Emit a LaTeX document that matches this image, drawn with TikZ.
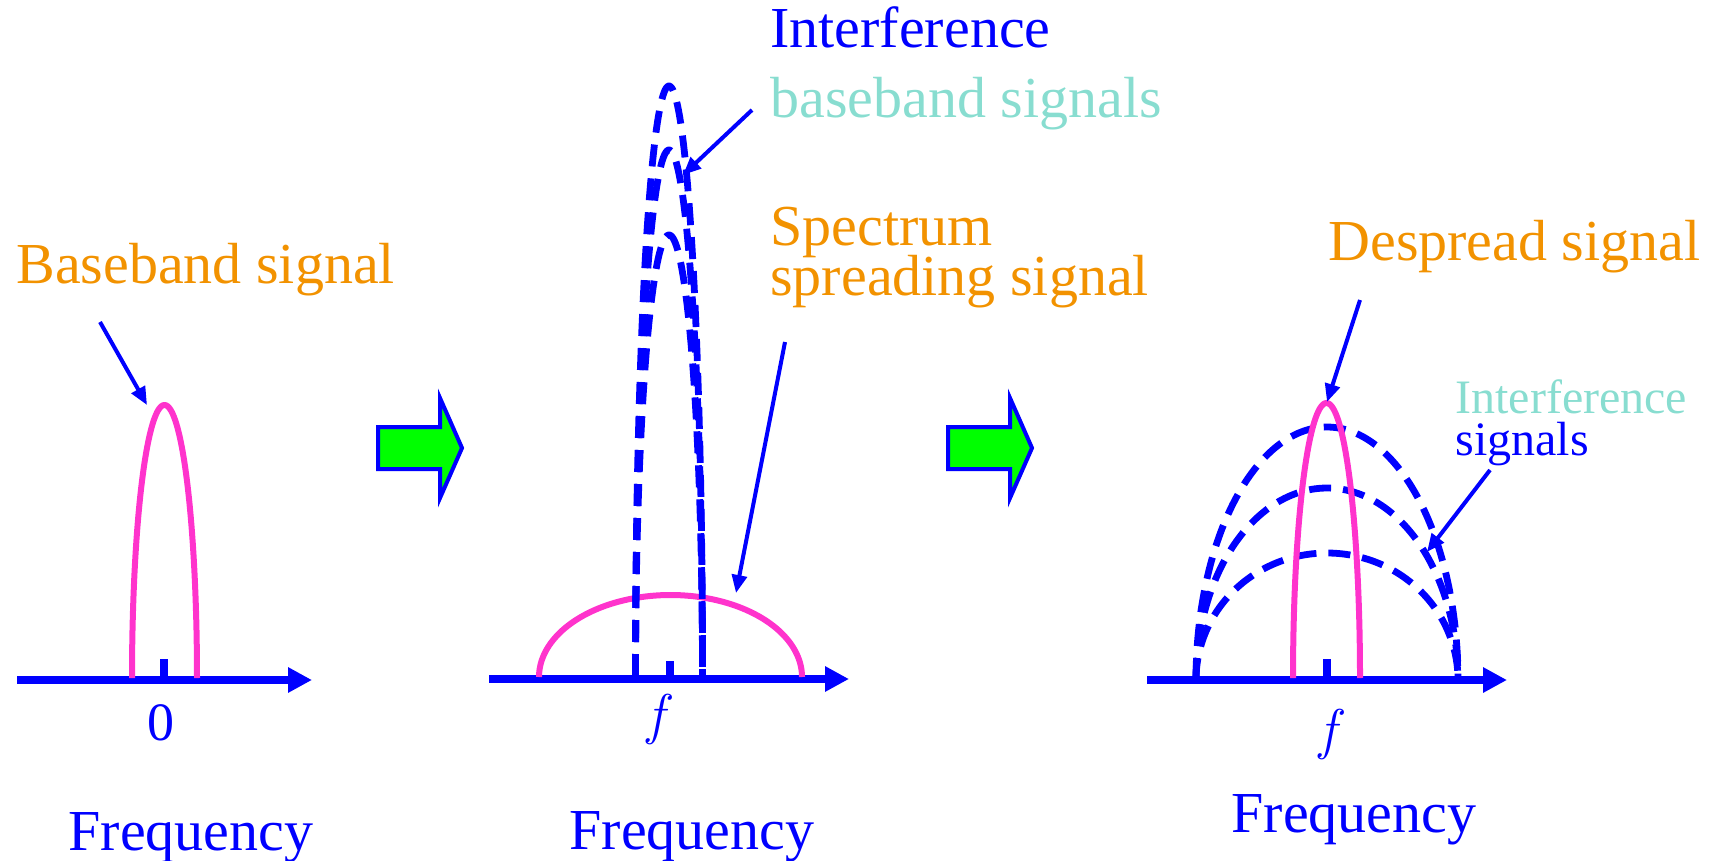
\documentclass[tikz,border=0pt]{standalone}
\usepackage{fontspec}
\setmainfont{Liberation Serif}
\newfontfamily\lmrm{Latin Modern Roman}
\usetikzlibrary{arrows.meta}
\definecolor{myblue}{RGB}{0,0,255}
\definecolor{myorange}{RGB}{242,146,0}
\definecolor{myteal}{RGB}{136,221,208}
\definecolor{mypink}{RGB}{255,51,204}
\definecolor{mygreen}{RGB}{0,255,0}
\begin{document}
\begin{tikzpicture}[x=0.5pt,y=-0.5pt,
  axisline/.style={myblue, line width=4pt, -{Triangle[length=12pt,width=12pt]}},
  tickmark/.style={myblue, line width=4pt},
  sigcurve/.style={mypink, line width=3pt},
  intcurve/.style={myblue, line width=3.4pt, dash pattern=on 11pt off 6pt},
  pointer/.style={myblue, line width=2pt, -{Triangle[length=9pt,width=7.5pt]}},
  lbl/.style={inner sep=0pt, font=\fontsize{29}{34}\selectfont},
  smalllbl/.style={inner sep=0pt, font=\fontsize{24}{28}\selectfont},
  axlbl/.style={inner sep=0pt, font=\fontsize{27}{32}\selectfont, text=myblue},
  flbl/.style={inner sep=0pt, font=\lmrm\itshape\fontsize{28}{32}\selectfont, text=myblue},
  bigarrow/.style={draw=myblue, fill=mygreen, line width=2pt, line join=miter}]
\useasboundingbox (0,0) rectangle (1717,861);

% ---------- Panel 1 ----------
\coordinate (ax1s) at (17,680);
\coordinate (ax1e) at (312,680);
\draw[axisline] (ax1s) -- (ax1e);
\coordinate (t1a) at (164,659);
\coordinate (t1b) at (164,680);
\draw[tickmark] (t1a) -- (t1b);
\draw[sigcurve] plot[domain=180:360, samples=90, smooth] ({164.5+32.5*cos(\x)}, {678+273*sin(\x)});
\node[lbl, text=myorange, anchor=base west] (bbsig) at (16,283) {Baseband signal};
\coordinate (p1s) at (100,322);
\coordinate (p1e) at (147,405);
\draw[pointer] (p1s) -- (p1e);
\node[axlbl, anchor=base] (zero) at (161,740) {0};
\node[lbl, text=myblue, anchor=base] (freq1) at (191,850) {Frequency};

% ---------- Green arrows ----------
\draw[bigarrow] (378,427) -- (440,427) -- (440,398) -- (462,448) -- (440,498) -- (440,469) -- (378,469) -- cycle;
\draw[bigarrow] (948,427) -- (1010,427) -- (1010,398) -- (1032,448) -- (1010,498) -- (1010,469) -- (948,469) -- cycle;

% ---------- Panel 2 ----------
\coordinate (ax2s) at (489,679);
\coordinate (ax2e) at (849,679);
\draw[axisline] (ax2s) -- (ax2e);
\coordinate (t2a) at (670,661);
\coordinate (t2b) at (670,679);
\draw[tickmark] (t2a) -- (t2b);
\draw[sigcurve] plot[domain=180:360, samples=90, smooth] ({670.5+131.5*cos(\x)}, {677+82*sin(\x)});
\draw[intcurve] plot[domain=180:360, samples=120, smooth] ({669+33.5*cos(\x)}, {676+590*sin(\x)});
\draw[intcurve] plot[domain=180:360, samples=120, smooth] ({669+33.5*cos(\x)}, {676+526*sin(\x)});
\draw[intcurve] plot[domain=180:360, samples=120, smooth] ({669+33.5*cos(\x)}, {676+441*sin(\x)});
\node[lbl, text=myblue, anchor=base west] (interf) at (770,48) {Interference};
\node[lbl, text=myteal, anchor=base west] (bbsigs) at (770,118) {baseband signals};
\node[lbl, text=myorange, anchor=base west] (spec1) at (770,245) {Spectrum};
\node[lbl, text=myorange, anchor=base west] (spec2) at (770,295) {spreading signal};
\coordinate (p2s) at (752,110);
\coordinate (p2e) at (683,175);
\draw[pointer] (p2s) -- (p2e);
\coordinate (p3s) at (785,342);
\coordinate (p3e) at (736,593);
\draw[pointer] (p3s) -- (p3e);
\node[flbl, anchor=base] (f1) at (656,733) {f};
\node[lbl, text=myblue, anchor=base] (freq2) at (692,849) {Frequency};

% ---------- Panel 3 ----------
\coordinate (ax3s) at (1147,680);
\coordinate (ax3e) at (1507,680);
\draw[axisline] (ax3s) -- (ax3e);
\coordinate (t3a) at (1327,659);
\coordinate (t3b) at (1327,680);
\draw[tickmark] (t3a) -- (t3b);
\draw[intcurve] plot[domain=180:360, samples=120, smooth] ({1327+131*cos(\x)}, {680+253*sin(\x)});
\draw[intcurve] plot[domain=180:360, samples=120, smooth] ({1327+131*cos(\x)}, {680+192*sin(\x)});
\draw[intcurve] plot[domain=180:360, samples=120, smooth] ({1327+131*cos(\x)}, {680+127*sin(\x)});
\draw[sigcurve] plot[domain=180:360, samples=90, smooth] ({1326.5+33.5*cos(\x)}, {678+275*sin(\x)});
\node[lbl, text=myorange, anchor=base west] (despread) at (1328,261) {Despread signal};
\node[smalllbl, text=myteal, anchor=base west] (interf2) at (1455,413) {Interference};
\node[smalllbl, text=myblue, anchor=base west] (signals2) at (1455,455) {signals};
\coordinate (p4s) at (1360,300);
\coordinate (p4e) at (1327,402);
\draw[pointer] (p4s) -- (p4e);
\coordinate (p5s) at (1490,470);
\coordinate (p5e) at (1427,552);
\draw[pointer] (p5s) -- (p5e);
\node[flbl, anchor=base] (f2) at (1328,748) {f};
\node[lbl, text=myblue, anchor=base] (freq3) at (1354,832) {Frequency};
\end{tikzpicture}
\end{document}
